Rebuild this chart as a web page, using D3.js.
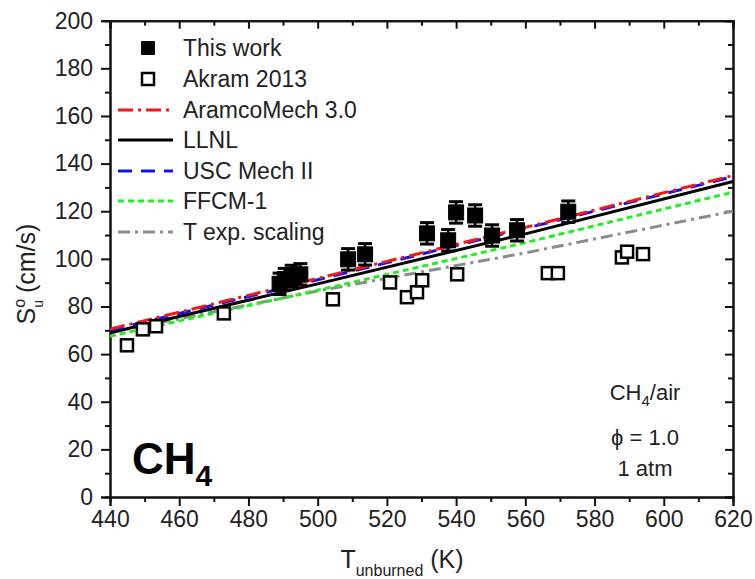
<!DOCTYPE html>
<html>
<head>
<meta charset="utf-8">
<script src="https://cdn.jsdelivr.net/npm/d3@7"></script>
<style>
body{margin:0;background:#fff;}
text{font-family:"Liberation Sans",Arial,sans-serif;fill:#222;}
</style>
</head>
<body>
<div id="chart"></div>
<script>
// data
var thisWorkT=[489,490.5,492.5,495,508.8,513.7,531.6,537.7,540,545.5,550.4,557.6,572.4];
var thisWorkS=[89.5,91.5,92.8,93.5,99.8,101.9,110.7,107.8,119.5,118.2,109.8,112,119.8];
var errS=4.5;

var akramT=[444.9,449.5,453.3,472.9,504.4,520.9,525.8,528.7,530.2,540.3,566.5,569.4,587.9,589.4,594];
var akramS=[63.7,70.4,71.7,77.1,83,90.1,83.9,86,91,93.5,94,94,100.6,103,102];

var modelT=[440,500,560,620];
var aramco=[70.5,91.8,113.2,135];
var llnl=[69,89.5,110.5,132.5];
var usc=[70,91.2,112.8,134.5];
var ffcm=[67.5,86.8,106.8,128];
var texp=[69,86.5,102.5,120];

var xTicks=[440,460,480,500,520,540,560,580,600,620];
var yTicks=[0,20,40,60,80,100,120,140,160,180,200];

var W=755,H=579;
var L=110,R=733,T=20.7,B=497;

var svg=d3.select('#chart').append('svg').attr('width',W).attr('height',H);

var x=d3.scaleLinear().domain([440,620]).range([L,R]);
var y=d3.scaleLinear().domain([0,200]).range([B,T]);

// axes
var minorX=d3.range(450,620,20), minorY=d3.range(10,200,20);

svg.append('g').attr('transform','translate(0,'+B+')')
	.call(d3.axisBottom(x).tickValues(xTicks).tickSize(9).tickPadding(5).tickFormat(d3.format('d')));
svg.append('g').attr('transform','translate(0,'+B+')')
	.call(d3.axisBottom(x).tickValues(minorX).tickSize(5).tickFormat(''));
svg.append('g').attr('transform','translate('+L+',0)')
	.call(d3.axisLeft(y).tickValues(yTicks).tickSize(9).tickPadding(8).tickFormat(d3.format('d')));
svg.append('g').attr('transform','translate('+L+',0)')
	.call(d3.axisLeft(y).tickValues(minorY).tickSize(5).tickFormat(''));
svg.append('g').attr('transform','translate(0,'+T+')')
	.call(d3.axisTop(x).tickValues(xTicks).tickSize(-8).tickFormat(''));
svg.append('g').attr('transform','translate(0,'+T+')')
	.call(d3.axisTop(x).tickValues(minorX).tickSize(-5).tickFormat(''));
svg.append('g').attr('transform','translate('+R+',0)')
	.call(d3.axisRight(y).tickValues(yTicks).tickSize(-8).tickFormat(''));
svg.append('g').attr('transform','translate('+R+',0)')
	.call(d3.axisRight(y).tickValues(minorY).tickSize(-5).tickFormat(''));

svg.selectAll('.domain').attr('stroke','#111').attr('stroke-width',2);
svg.selectAll('.tick line').attr('stroke','#111').attr('stroke-width',2);
svg.selectAll('.tick text').style('font-size','23px').attr('fill','#222');

// model lines
var series=[
	{n:'AramcoMech 3.0',v:aramco,c:'#f01818',d:'15,5,3,5'},
	{n:'LLNL',v:llnl,c:'#000',d:null},
	{n:'USC Mech II',v:usc,c:'#1010f0',d:'14,9'},
	{n:'FFCM-1',v:ffcm,c:'#22ee22',d:'6,4'},
	{n:'T exp. scaling',v:texp,c:'#8c8c8c',d:'12,5,3,5'}
];
var line=d3.line().x(function(d){return x(d[0]);}).y(function(d){return y(d[1]);});

var drawOrder=[4,3,1,2,0];
drawOrder.forEach(function(i){
	var s=series[i];
	svg.append('path').datum(modelT.map(function(t,j){return [t,s.v[j]];}))
		.attr('d',line).attr('fill','none').attr('stroke',s.c)
		.attr('stroke-width',3).attr('stroke-dasharray',s.d);
});

// Akram open squares
svg.selectAll('.akram').data(akramT).enter().append('rect')
	.attr('x',function(d){return x(d)-6;})
	.attr('y',function(d,i){return y(akramS[i])-6;})
	.attr('width',12).attr('height',12)
	.attr('fill','#fff').attr('stroke','#000').attr('stroke-width',2.5);

// This work with error bars
var tw=svg.selectAll('.tw').data(thisWorkT).enter().append('g');
tw.append('rect')
	.attr('x',function(d){return x(d)-7.5;})
	.attr('y',function(d,i){return y(thisWorkS[i])-7.5;})
	.attr('width',15).attr('height',15).attr('fill','#000')
	.attr('stroke','#000').attr('stroke-width',1);
tw.append('line')
	.attr('x1',function(d){return x(d);}).attr('x2',function(d){return x(d);})
	.attr('y1',function(d,i){return y(thisWorkS[i]+errS);})
	.attr('y2',function(d,i){return y(thisWorkS[i]-errS);})
	.attr('stroke','#000').attr('stroke-width',2.5);
[errS,-errS].forEach(function(e){
	tw.append('line')
		.attr('x1',function(d){return x(d)-7;}).attr('x2',function(d){return x(d)+7;})
		.attr('y1',function(d,i){return y(thisWorkS[i]+e);})
		.attr('y2',function(d,i){return y(thisWorkS[i]+e);})
		.attr('stroke','#000').attr('stroke-width',3);
});

// legend
var lg=svg.append('g');
var ly=[48,79,110,140,171,201,232];
lg.append('rect').attr('x',141).attr('y',ly[0]-7).attr('width',14).attr('height',14).attr('fill','#000');
lg.append('rect').attr('x',142).attr('y',ly[1]-6).attr('width',12).attr('height',12)
	.attr('fill','#fff').attr('stroke','#000').attr('stroke-width',2.5);
series.forEach(function(s,i){
	lg.append('line').attr('x1',118).attr('x2',173).attr('y1',ly[i+2]).attr('y2',ly[i+2])
		.attr('stroke',s.c).attr('stroke-width',3).attr('stroke-dasharray',s.d);
});
var names=['This work','Akram 2013'].concat(series.map(function(s){return s.n;}));
lg.selectAll('.lt').data(names).enter().append('text')
	.attr('x',183).attr('y',function(d,i){return ly[i]+8;})
	.style('font-size','23px').text(function(d){return d;});

// axis titles
var xt=svg.append('text').attr('x',402).attr('y',568).attr('text-anchor','middle').style('font-size','25px');
xt.append('tspan').text('T');
xt.append('tspan').attr('dy',8).style('font-size','16px').text('unburned');
xt.append('tspan').attr('dy',-8).text(' (K)');

var yt=svg.append('text').attr('transform','translate(35,274) rotate(-90)').attr('text-anchor','middle').style('font-size','25px');
yt.append('tspan').text('S');
yt.append('tspan').attr('dy',-10).style('font-size','16px').text('o');
yt.append('tspan').attr('dx',-9).attr('dy',18).style('font-size','14px').text('u');
yt.append('tspan').attr('dy',-8).text(' (cm/s)');

// annotations
var a1=svg.append('text').attr('x',645).attr('y',400).attr('text-anchor','middle').style('font-size','22px');
a1.append('tspan').text('CH');
a1.append('tspan').attr('dy',6).style('font-size','15px').text('4');
a1.append('tspan').attr('dy',-6).text('/air');
svg.append('text').attr('x',645).attr('y',445).attr('text-anchor','middle').style('font-size','22px').text('\u03d5 = 1.0');
svg.append('text').attr('x',645).attr('y',476).attr('text-anchor','middle').style('font-size','22px').text('1 atm');

var big=svg.append('text').attr('x',132).attr('y',474).style('font-size','44px').style('font-weight','bold').style('fill','#000');
big.append('tspan').text('CH');
big.append('tspan').attr('dy',12).style('font-size','30px').text('4');
</script>
</body>
</html>
